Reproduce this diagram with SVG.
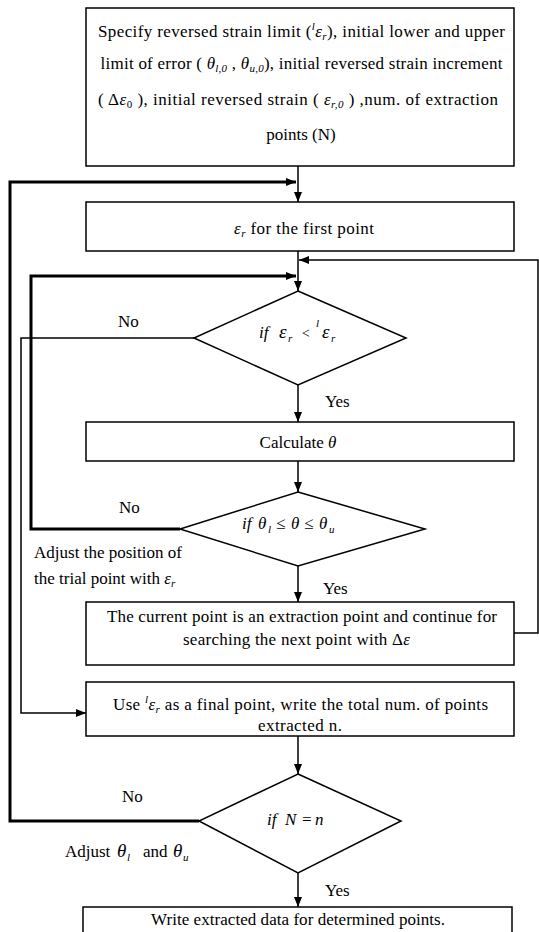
<svg xmlns="http://www.w3.org/2000/svg" width="539" height="932" viewBox="0 0 539 932">
<style>
.t{font-family:"Liberation Serif","Times New Roman",serif;font-size:17px;fill:#000}
.m{font-style:italic}
.s{font-size:11px}
.g{font-size:19px}
.box{fill:#fff;stroke:#000;stroke-width:1.5}
.c{fill:none;stroke:#000;stroke-width:1.5}
.k{stroke-width:3}
</style>
<defs>
<marker id="a" viewBox="0 0 10 10" refX="10" refY="5" markerWidth="10" markerHeight="10" markerUnits="userSpaceOnUse" orient="auto">
<path d="M0,1 L10,5 L0,9 z" fill="#000"/>
</marker>
</defs>
<rect width="539" height="932" fill="#fff"/>

<g id="connectors">
<path class="c" d="M298,166 V202" marker-end="url(#a)"/>
<path class="c k" d="M199,821 H10 V182 H296" marker-end="url(#a)"/>
<path class="c" d="M298,251 V291" marker-end="url(#a)"/>
<path class="c" d="M514,633 H538 V260 H299" marker-end="url(#a)"/>
<path class="c k" d="M180,529 H31 V276 H296" marker-end="url(#a)"/>
<path class="c" d="M194,338 H21 V713 H86" marker-end="url(#a)"/>
<path class="c" d="M298,385 V422" marker-end="url(#a)"/>
<path class="c" d="M298,461 V492" marker-end="url(#a)"/>
<path class="c" d="M298,566 V602" marker-end="url(#a)"/>
<path class="c" d="M298,736 V774" marker-end="url(#a)"/>
<path class="c" d="M298,873 V907" marker-end="url(#a)"/>
</g>

<g id="start">
<rect class="box" x="86" y="8" width="428" height="158"/>
<text class="t" x="301.5" y="37" text-anchor="middle" textLength="407" lengthAdjust="spacing">Specify reversed strain limit (<tspan class="m s" dy="-7">l</tspan><tspan class="m" dy="7">ε</tspan><tspan class="m s" dy="3">r</tspan><tspan dy="-3">), initial lower and upper</tspan></text>
<text class="t" x="301.5" y="69" text-anchor="middle" textLength="402" lengthAdjust="spacing">limit of error ( <tspan class="m">θ</tspan><tspan class="m s" dy="3">l,0</tspan><tspan dy="-3"> , </tspan><tspan class="m">θ</tspan><tspan class="m s" dy="3">u,0</tspan><tspan dy="-3">), initial reversed strain increment</tspan></text>
<text class="t" x="298" y="105" text-anchor="middle" textLength="400" lengthAdjust="spacing">( Δ<tspan class="m">ε</tspan><tspan class="s" dy="3">0</tspan><tspan dy="-3"> ), initial reversed strain ( </tspan><tspan class="m">ε</tspan><tspan class="m s" dy="3">r,0</tspan><tspan dy="-3"> ) ,num. of extraction</tspan></text>
<text class="t" x="301" y="140" text-anchor="middle">points (N)</text>
</g>

<g id="first-point">
<rect class="box" x="86" y="202" width="428" height="49"/>
<text class="t" x="304" y="234" text-anchor="middle" textLength="140" lengthAdjust="spacing"><tspan class="m">ε</tspan><tspan class="m s" dy="3">r</tspan><tspan dy="-3">  for the first point</tspan></text>
</g>

<g id="check-limit">
<polygon class="box" points="298,291 406,338 298,385 194,338"/>
<text class="t m" y="338"><tspan x="259">if</tspan><tspan class="g" x="279">ε</tspan><tspan class="s" x="288" dy="4">r</tspan><tspan x="301" dy="-4" font-size="14">&lt;</tspan><tspan class="s" x="316" dy="-11">l</tspan><tspan class="g" x="322" dy="11">ε</tspan><tspan class="s" x="331" dy="4">r</tspan></text>
<text class="t" x="118" y="327">No</text>
<text class="t" x="325" y="407">Yes</text>
</g>

<g id="calculate">
<rect class="box" x="86" y="422" width="428" height="39"/>
<text class="t" x="298" y="448" text-anchor="middle">Calculate <tspan class="m">θ</tspan></text>
</g>

<g id="check-theta">
<polygon class="box" points="298,492 425,529 298,566 180,529"/>
<text class="t m" y="529" font-size="20"><tspan x="242">if</tspan><tspan x="258">θ</tspan><tspan class="s" x="268" dy="4">l</tspan><tspan x="276" dy="-4">≤</tspan><tspan x="291">θ</tspan><tspan x="304">≤</tspan><tspan x="319">θ</tspan><tspan class="s" x="329" dy="4">u</tspan></text>
<text class="t" x="119" y="513">No</text>
<text class="t" x="34" y="558" textLength="148" lengthAdjust="spacing">Adjust the position of</text>
<text class="t" x="34" y="584">the trial point with  <tspan class="m">ε</tspan><tspan class="m s" dy="3">r</tspan></text>
<text class="t" x="323" y="594">Yes</text>
</g>

<g id="extraction-point">
<rect class="box" x="86" y="602" width="428" height="63"/>
<text class="t" x="302" y="622" text-anchor="middle" textLength="390" lengthAdjust="spacing">The current point is an extraction point and continue for</text>
<text class="t" x="296.5" y="645" text-anchor="middle" textLength="227" lengthAdjust="spacing">searching the next point with Δ<tspan class="m">ε</tspan></text>
</g>

<g id="final-point">
<rect class="box" x="86" y="682" width="428" height="54"/>
<text class="t" x="300.5" y="710" text-anchor="middle" textLength="375" lengthAdjust="spacing">Use <tspan class="m s" dy="-7">l</tspan><tspan class="m" dy="7">ε</tspan><tspan class="m s" dy="3">r</tspan><tspan dy="-3">  as a final point, write the total num. of points</tspan></text>
<text class="t" x="300" y="731" text-anchor="middle" textLength="84" lengthAdjust="spacing">extracted  n.</text>
</g>

<g id="check-n">
<polygon class="box" points="298,774 401,821 298,873 199,821"/>
<text class="t m" y="825"><tspan x="267">if</tspan><tspan x="285">N</tspan><tspan x="301">=</tspan><tspan x="315">n</tspan></text>
<text class="t" x="122" y="802">No</text>
<text class="t" y="857"><tspan x="65">Adjust</tspan><tspan class="m g" x="117">θ</tspan><tspan class="m s" x="127" dy="4">l</tspan><tspan x="143" dy="-4">and</tspan><tspan class="m g" x="173">θ</tspan><tspan class="m s" x="183" dy="4">u</tspan></text>
<text class="t" x="325" y="896">Yes</text>
</g>

<g id="write-data">
<rect class="box" x="83" y="907" width="429" height="40"/>
<text class="t" x="298" y="925" text-anchor="middle" textLength="294" lengthAdjust="spacing">Write extracted data for determined points.</text>
</g>
</svg>
